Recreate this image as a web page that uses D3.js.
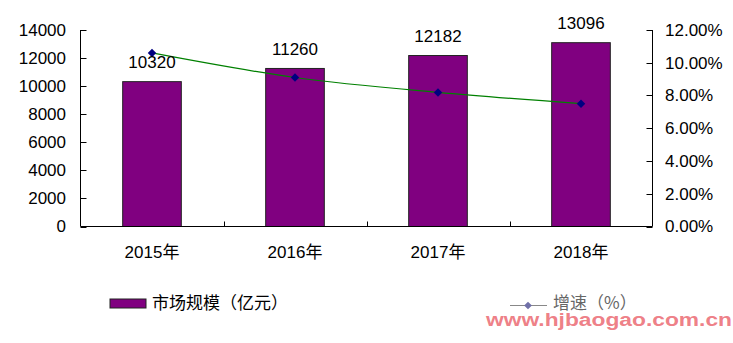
<!DOCTYPE html>
<html><head><meta charset="utf-8">
<script src="https://cdn.jsdelivr.net/npm/d3@7"></script>
<style>
body{margin:0;background:#fff;}
text{font-family:"Liberation Sans",Arial,"Noto Sans CJK SC",sans-serif;}
</style></head>
<body><svg id="c" width="733" height="343"></svg>
<script>
const categories = ["2015年","2016年","2017年","2018年"];
const marketSize = [10320, 11260, 12182, 13096];
const growth = [0.106, 0.091, 0.0819, 0.075];
const leftTicks = [0,2000,4000,6000,8000,10000,12000,14000];
const rightTicks = [0,0.02,0.04,0.06,0.08,0.10,0.12];
const seriesNames = ["市场规模（亿元）","增速（%）"];
const watermark = "www.hjbaogao.com.cn";

const svg = d3.select("#c");
const L = 80.5, R = 652.5, T = 30, B = 226.5;
const x = d3.scaleBand().domain(categories).range([L, R]).paddingInner(0.59).paddingOuter(0.295);
const y = d3.scaleLinear().domain([0,14000]).range([B, T]);
const y2 = d3.scaleLinear().domain([0,0.12]).range([B, T]);
const font = 17;

// bars
svg.selectAll("rect.bar").data(marketSize).enter().append("rect")
  .attr("x",(d,i)=>x(categories[i])).attr("y",d=>y(d))
  .attr("width",x.bandwidth()).attr("height",d=>B-y(d))
  .attr("fill","#800080").attr("stroke","#222").attr("stroke-width",1);

// axes
const g = svg.append("g");
g.append("line").attr("x1",L).attr("x2",L).attr("y1",T).attr("y2",B).attr("stroke","#000");
g.append("line").attr("x1",R).attr("x2",R).attr("y1",T).attr("y2",B).attr("stroke","#000");
g.append("line").attr("x1",L).attr("x2",R).attr("y1",B).attr("y2",B).attr("stroke","#000");
leftTicks.forEach(t=>{
  g.append("line").attr("x1",L).attr("x2",L+6).attr("y1",Math.round(y(t))+0.5).attr("y2",Math.round(y(t))+0.5).attr("stroke","#000");
  g.append("text").attr("x",66).attr("y",y(t)).attr("dy","0.35em").attr("text-anchor","end")
    .attr("font-size",font).attr("fill","#000").text(t);
});
rightTicks.forEach(t=>{
  g.append("line").attr("x1",R-6).attr("x2",R).attr("y1",Math.round(y2(t))+0.5).attr("y2",Math.round(y2(t))+0.5).attr("stroke","#000");
  g.append("text").attr("x",665).attr("y",y2(t)).attr("dy","0.35em").attr("text-anchor","start")
    .attr("font-size",font).attr("fill","#000").text(d3.format(".2%")(t));
});
const step = x.step();
for(let i=1;i<categories.length;i++){
  const xx = Math.round(L + i*step)+0.5;
  g.append("line").attr("x1",xx).attr("x2",xx).attr("y1",B).attr("y2",B-5).attr("stroke","#000");
}
categories.forEach(c=>{
  g.append("text").attr("x",x(c)+x.bandwidth()/2).attr("y",258).attr("text-anchor","middle")
    .attr("font-size",font).attr("fill","#000").text(c);
});

// line
const pts = growth.map((d,i)=>[x(categories[i])+x.bandwidth()/2, y2(d)]);
svg.append("path").attr("d", d3.line().curve(d3.curveCatmullRom.alpha(0.5))(pts))
  .attr("fill","none").attr("stroke","#008000").attr("stroke-width",1.2);
svg.selectAll("path.m").data(pts).enter().append("path")
  .attr("transform",d=>`translate(${d[0]},${d[1]}) rotate(45)`)
  .attr("d", d3.symbol().type(d3.symbolSquare).size(36)())
  .attr("fill","#000080");

// data labels
svg.selectAll("text.lbl").data(marketSize).enter().append("text")
  .attr("x",(d,i)=>x(categories[i])+x.bandwidth()/2).attr("y",d=>y(d)-13.5)
  .attr("text-anchor","middle").attr("font-size",font).attr("fill","#000").text(d=>d);

// legend
svg.append("rect").attr("x",110).attr("y",299).attr("width",36).attr("height",9)
  .attr("fill","#800080").attr("stroke","#222");
svg.append("text").attr("x",152).attr("y",303).attr("dy","0.35em").attr("font-size",17)
  .style("font-family","'Noto Sans CJK SC',sans-serif").attr("fill","#000").text(seriesNames[0]);
svg.append("line").attr("x1",510).attr("x2",547).attr("y1",305.5).attr("y2",305.5).attr("stroke","#888").attr("stroke-width",1);
svg.append("path").attr("transform","translate(528,305.5) rotate(45)")
  .attr("d", d3.symbol().type(d3.symbolSquare).size(30)()).attr("fill","#7070a8");
svg.append("text").attr("x",553).attr("y",303).attr("dy","0.35em").attr("font-size",17)
  .style("font-family","'Noto Sans CJK SC',sans-serif").attr("fill","#666").text(seriesNames[1]);

// watermark
svg.append("text").attr("x",486).attr("y",326).attr("font-family","'DejaVu Sans Mono',monospace")
  .attr("font-weight","bold").attr("font-size",18).attr("fill","#ec7078").attr("fill-opacity",0.9)
  .attr("textLength",246).attr("lengthAdjust","spacingAndGlyphs").text(watermark);
</script></body></html>
